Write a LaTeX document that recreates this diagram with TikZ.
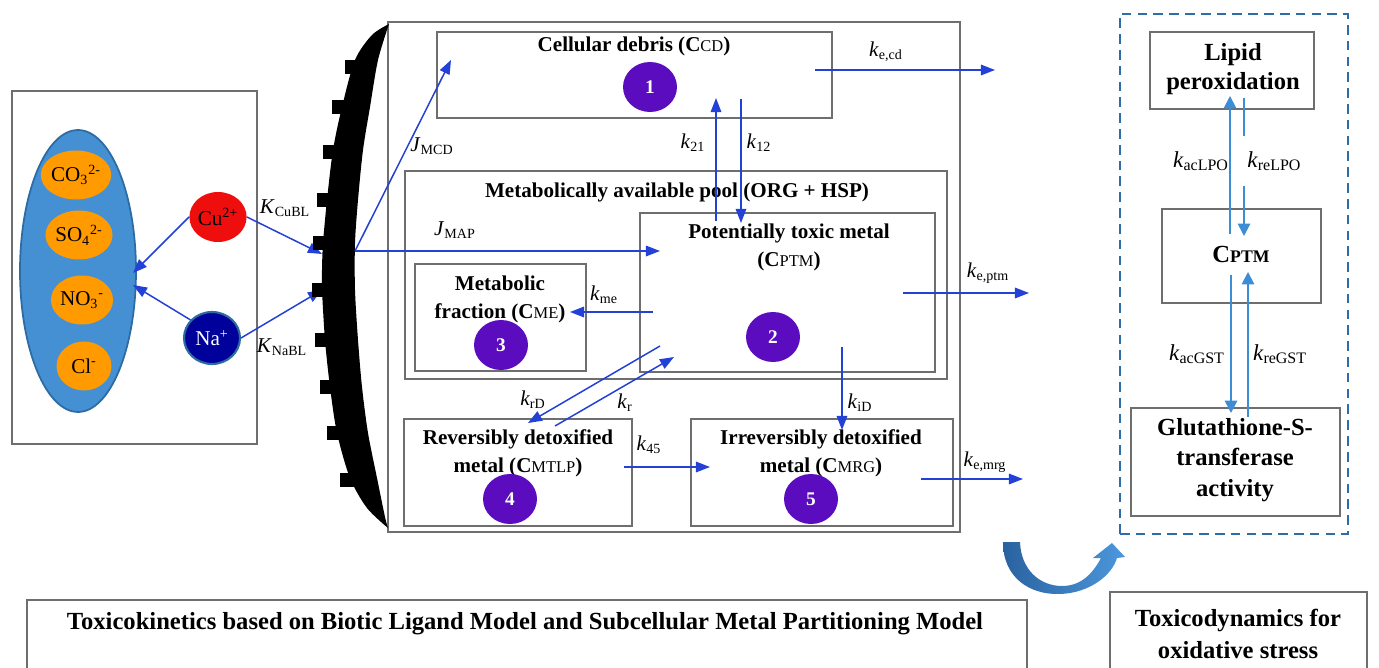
\documentclass[tikz,border=0pt]{standalone}
\usepackage{fontspec}
\usepackage{graphicx}
\setmainfont{Liberation Serif}
\usetikzlibrary{arrows.meta,shapes.geometric,fit}

\definecolor{fluxblue}{HTML}{2341D6}
\definecolor{tdblue}{HTML}{3C8DD6}
\definecolor{framegray}{HTML}{6E6E6E}
\definecolor{poolpurple}{HTML}{5A0CBE}
\definecolor{waterblue}{HTML}{4590D3}
\definecolor{wateredge}{HTML}{2D6BA3}
\definecolor{anion}{HTML}{FF9A00}
\definecolor{cured}{HTML}{EE0E0E}
\definecolor{nanavy}{HTML}{00009A}
\definecolor{dashblue}{HTML}{2F6CA8}
\definecolor{bendL}{HTML}{2A62A0}
\definecolor{bendR}{HTML}{4C97DC}

\newcommand{\rate}[1]{\textit{k}\textsubscript{#1}}
\newcommand{\flux}[1]{\textit{J}\textsubscript{#1}}
\newcommand{\bind}[1]{\textit{K}\textsubscript{#1}}
\newcommand{\conc}[1]{C\scalebox{0.78}{\mdseries #1}}
\newcommand{\concb}[1]{C\scalebox{0.72}{#1}}

\begin{document}
\begin{tikzpicture}[x=0.02cm,y=-0.02cm,
  box/.style={draw=framegray,line width=0.7pt,inner sep=0pt},
  title/.style={font=\fontsize{12}{16}\selectfont\bfseries,align=center,inner sep=1pt},
  tdtitle/.style={font=\fontsize{14}{16.5}\selectfont\bfseries,align=center,inner sep=1pt},
  num/.style={ellipse,fill=poolpurple,text=white,minimum width=1.08cm,minimum height=1cm,inner sep=0pt,font=\fontsize{11}{13}\selectfont\bfseries},
  ion/.style={ellipse,fill=anion,minimum width=1.1cm,minimum height=0.98cm,inner sep=0pt,font=\fontsize{12}{14}\selectfont},
  rl/.style={font=\fontsize{12}{14}\selectfont,inner sep=1pt},
  tdl/.style={font=\fontsize{13}{15}\selectfont,inner sep=1pt},
  go/.style={draw=fluxblue,line width=0.85pt,-{Triangle[length=8pt,width=6pt]}},
  td/.style={draw=tdblue,line width=1.1pt,-{Triangle[length=7pt,width=7pt]}}]
  \useasboundingbox (0,0) rectangle (1379,668);
  \clip (0,0) rectangle (1379,668);

  \node[box,fit={(12,91) (257,444)}] (water) {};
  \node[ellipse,draw=wateredge,line width=1pt,fill=waterblue,minimum width=2.32cm,minimum height=5.64cm] (sol) at (78,271) {};
  \node[ion] (co3) at (76,175) {CO\textsubscript{3}\textsuperscript{2-}};
  \node[ion] (so4) at (79,235) {SO\textsubscript{4}\textsuperscript{2-}};
  \node[ion] (no3) at (82,300) {NO\textsubscript{3}\textsuperscript{-}};
  \node[ion] (cl) at (84,366) {Cl\textsuperscript{-}};
  \node[ellipse,fill=cured,minimum width=1.12cm,minimum height=1cm,inner sep=0pt,font=\fontsize{12}{14}\selectfont] (cu) at (218,217) {Cu\textsuperscript{2+}};
  \node[ellipse,fill=nanavy,draw=wateredge,line width=1.2pt,text=white,minimum width=1.12cm,minimum height=1.04cm,inner sep=0pt,font=\fontsize{12}{14}\selectfont] (na) at (212,338) {Na\textsuperscript{+}};
  \coordinate (solcu) at (133,273);
  \coordinate (solna) at (133,285);
  \coordinate (blcu) at (322,254);
  \coordinate (blna) at (322,290);
  \draw[go] (cu.west) -- (solcu);
  \draw[go] (na.140) -- (solna);
  \draw[go] (cu.east) -- (blcu);
  \draw[go] (na.east) -- (blna);
  \node[rl] (kcu) at (285,208) {\bind{CuBL}};
  \node[rl] (kna) at (282,347) {\bind{NaBL}};

  \node[box,fit={(388,22) (960,532)}] (cell) {};
  \fill plot[smooth] coordinates {(389,24) (372,35) (355,60) (342,107) (333,150) (327,200) (323,243) (322,270)
      (322,290) (325,340) (330,387) (337,433) (350,478) (367,508) (388,528)}
    -- plot[smooth] coordinates {(388,528) (385,517) (377,478) (368,433) (362,387) (358,340) (355,290)
      (355,243) (358,200) (363,150) (370,107) (378,60) (389,24)} -- cycle;
  \foreach \ty/\tx in {67/355,107/342,152/333,200/327,243/323,290/322,340/325,387/330,433/337,480/350}
    \fill (\tx-10,\ty-7) rectangle (\tx+4,\ty+7);
  \coordinate (bl) at (355,251);

  \node[box,fit={(437,32) (832,118)}] (debris) {};
  \node[title] (debristxt) at (634,46) {Cellular debris (\conc{CD})};
  \node[num] (n1) at (650,87) {1};
  \node[box,fit={(405,171) (947,379)}] (pool) {};
  \node[title] (pooltxt) at (677,192) {Metabolically available pool (ORG + HSP)};
  \node[box,fit={(640,213) (935,372)}] (ptm) {};
  \node[title] (ptmtxt) at (789,247) {Potentially toxic metal\\(\conc{PTM})};
  \node[num] (n2) at (773,337) {2};
  \node[box,fit={(415,264) (586,371)}] (me) {};
  \node[title] (metxt) at (500,299) {Metabolic\\fraction (\conc{ME})};
  \node[num] (n3) at (501,345) {3};
  \node[box,fit={(404,419) (632,526)}] (mtlp) {};
  \node[title] (mtlptxt) at (518,453) {Reversibly detoxified\\metal (\conc{MTLP})};
  \node[num] (n4) at (510,499) {4};
  \node[box,fit={(691,419) (953,526)}] (mrg) {};
  \node[title] (mrgtxt) at (821,453) {Irreversibly detoxified\\metal (\conc{MRG})};
  \node[num] (n5) at (811,499) {5};

  \coordinate (mcd) at (451,60);
  \coordinate (map) at (660,251);
  \coordinate (cdout) at (815,70);
  \coordinate (cdend) at (995,70);
  \coordinate (s21) at (716,221);
  \coordinate (e21) at (716,98);
  \coordinate (s12) at (741,99);
  \coordinate (e12) at (741,223);
  \coordinate (sme) at (653,312);
  \coordinate (eme) at (570,312);
  \coordinate (ptmout) at (903,293);
  \coordinate (ptmend) at (1029,293);
  \coordinate (sid) at (842,347);
  \coordinate (eid) at (842,430);
  \coordinate (srd) at (660,346);
  \coordinate (erd) at (528,423);
  \coordinate (sr) at (555,426);
  \coordinate (er) at (674,357);
  \coordinate (s45) at (624,467);
  \coordinate (e45) at (710,467);
  \coordinate (mrgout) at (921,479);
  \coordinate (mrgend) at (1023,479);
  \draw[go] (bl) -- (mcd);
  \draw[go] (bl) -- (map);
  \draw[go] (cdout) -- (cdend);
  \draw[go] (s21) -- (e21);
  \draw[go] (s12) -- (e12);
  \draw[go] (sme) -- (eme);
  \draw[go] (ptmout) -- (ptmend);
  \draw[go] (sid) -- (eid);
  \draw[go] (srd) -- (erd);
  \draw[go] (sr) -- (er);
  \draw[go] (s45) -- (e45);
  \draw[go] (mrgout) -- (mrgend);
  \node[rl] (jmcd) at (432,146) {\flux{MCD}};
  \node[rl] (jmap) at (455,230) {\flux{MAP}};
  \node[rl] (kecd) at (886,52) {\rate{e,cd}};
  \node[rl] (k21) at (693,143) {\rate{21}};
  \node[rl] (k12) at (759,143) {\rate{12}};
  \node[rl] (kme) at (604,295) {\rate{me}};
  \node[rl] (keptm) at (988,273) {\rate{e,ptm}};
  \node[rl] (kid) at (860,403) {\rate{iD}};
  \node[rl] (krd) at (533,400) {\rate{rD}};
  \node[rl] (kr) at (625,403) {\rate{r}};
  \node[rl] (k45) at (649,445) {\rate{45}};
  \node[rl] (kemrg) at (985,462) {\rate{e,mrg}};

  \node[draw=dashblue,line width=1.4pt,dash pattern=on 5.5pt off 3.5pt,inner sep=0pt,fit={(1120,14) (1348,534)}] (tdframe) {};
  \node[box,fit={(1150,32) (1314,109)}] (lpo) {};
  \node[tdtitle] (lpotxt) at (1233,69) {Lipid\\peroxidation};
  \node[box,fit={(1162,209) (1321,303)}] (cptm) {};
  \node[tdtitle] (cptmtxt) at (1241,254) {\concb{PTM}};
  \node[box,fit={(1131,408) (1340,516)}] (gst) {};
  \node[tdtitle,font=\fontsize{14}{17.4}\selectfont\bfseries] (gsttxt) at (1235,460) {Glutathione-S-\\transferase\\activity};
  \coordinate (sacl) at (1230,234);
  \coordinate (eacl) at (1230,96);
  \coordinate (srel) at (1244,98);
  \coordinate (erel) at (1244,236);
  \coordinate (sacg) at (1231,275);
  \coordinate (eacg) at (1231,413);
  \coordinate (sreg) at (1248,417);
  \coordinate (ereg) at (1248,272);
  \draw[td] (sacl) -- (eacl);
  \draw[td] (srel) -- (erel);
  \draw[td] (sacg) -- (eacg);
  \draw[td] (sreg) -- (ereg);
  \node[tdl] (kacl) at (1201,161) {\rate{acLPO}};
  \node[tdl,fill=white,anchor=west,inner ysep=9pt,inner xsep=4pt] (krel) at (1240,161) {\rate{reLPO}};
  \node[tdl] (kacg) at (1197,354) {\rate{acGST}};
  \node[tdl] (kreg) at (1280,354) {\rate{reGST}};

  \shade[left color=bendL,right color=bendR] (1003,542) .. controls (1003,578) and (1030,595) .. (1060,594)
    .. controls (1090,593) and (1112,575) .. (1117,558) -- (1125,557) -- (1112,543) -- (1093,558) -- (1101,558)
    .. controls (1092,575) and (1080,586) .. (1062,586) .. controls (1040,586) and (1021,570) .. (1020,542) -- cycle;

  \node[box,fit={(27,600) (1027,700)}] (tk) {};
  \node[font=\fontsize{14}{17}\selectfont\bfseries] (tktxt) at (525,624) {Toxicokinetics based on Biotic Ligand Model and Subcellular Metal Partitioning Model};
  \node[box,fit={(1110,592) (1367,700)}] (tdbox) {};
  \node[font=\fontsize{14}{18}\selectfont\bfseries,align=center] (tdtxt) at (1238,634) {Toxicodynamics for\\oxidative stress};
\end{tikzpicture}
\end{document}
